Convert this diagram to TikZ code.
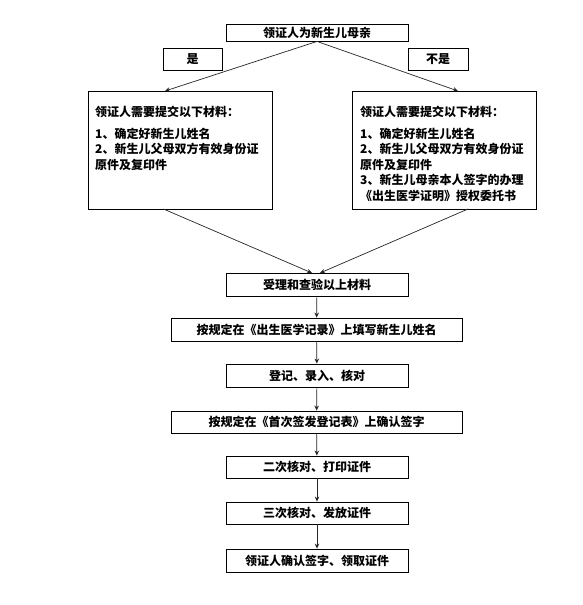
\documentclass[tikz,border=0pt]{standalone}
\usepackage{fontspec}
\newfontfamily\cjk{Noto Sans CJK SC}
\usetikzlibrary{arrows.meta}
\begin{document}
\begin{tikzpicture}[x=1pt,y=-1pt,
  every node/.style={font=\cjk\bfseries\fontsize{12pt}{15.4pt}\selectfont},
  box/.style={draw=black,line width=0.85pt,inner sep=0pt,minimum height=23pt},
  bigbox/.style={draw=black,line width=0.85pt,inner sep=0pt,minimum width=184pt,minimum height=118pt},
  txt/.style={inner sep=0pt,align=left,anchor=north west},
  arr/.style={draw=black!85,line width=0.7pt,-{Stealth[length=5pt,width=4.5pt]}}]
\useasboundingbox (0,0) rectangle (583,605);
\fill[white] (0,0) rectangle (583,605);

\node[box,minimum width=182pt,minimum height=17pt] (top) at (317,32.5) {领证人为新生儿母亲};
\node[box,minimum width=59pt,minimum height=22pt] (yes) at (192.5,59) {是};
\node[box,minimum width=60pt,minimum height=22pt] (no) at (438,59) {不是};

\node[bigbox] (lbox) at (180,150) {};
\node[bigbox] (rbox) at (444.5,150) {};
\node[txt] (ltext) at (95,105.5) {领证人需要提交以下材料：\\[7pt]1、确定好新生儿姓名\\2、新生儿父母双方有效身份证\\原件及复印件};
\node[txt] (rtext) at (360,105.5) {领证人需要提交以下材料：\\[7pt]1、确定好新生儿姓名\\2、新生儿父母双方有效身份证\\原件及复印件\\3、新生儿母亲本人签字的办理\\《出生医学证明》授权委托书};

\node[box,minimum width=182pt] (s1) at (317,284.5) {受理和查验以上材料};
\node[box,minimum width=291pt] (s2) at (316.5,329.5) {按规定在《出生医学记录》上填写新生儿姓名};
\node[box,minimum width=182pt] (s3) at (317,375.5) {登记、录入、核对};
\node[box,minimum width=291pt,minimum height=22pt] (s4) at (316.5,422) {按规定在《首次签发登记表》上确认签字};
\node[box,minimum width=182pt,minimum height=22pt] (s5) at (317,467) {二次核对、打印证件};
\node[box,minimum width=182pt,minimum height=22pt] (s6) at (317,513) {三次核对、发放证件};
\node[box,minimum width=182pt] (s7) at (317,560.5) {领证人确认签字、领取证件};

\coordinate (tl) at (165,91);
\coordinate (tr) at (458,91);
\coordinate (bl) at (163.5,209);
\coordinate (br) at (468,209);
\coordinate (ml) at (312,273);
\coordinate (mr) at (320,273);

\draw[arr] (top.south) -- (tl);
\draw[arr] (top.south) -- (tr);
\draw[arr] (bl) -- (ml);
\draw[arr] (br) -- (mr);
\draw[arr] (s1) -- (s2);
\draw[arr] (s2) -- (s3);
\draw[arr] (s3) -- (s4);
\draw[arr] (s4) -- (s5);
\draw[arr] (s5) -- (s6);
\draw[arr] (s6) -- (s7);
\end{tikzpicture}
\end{document}
